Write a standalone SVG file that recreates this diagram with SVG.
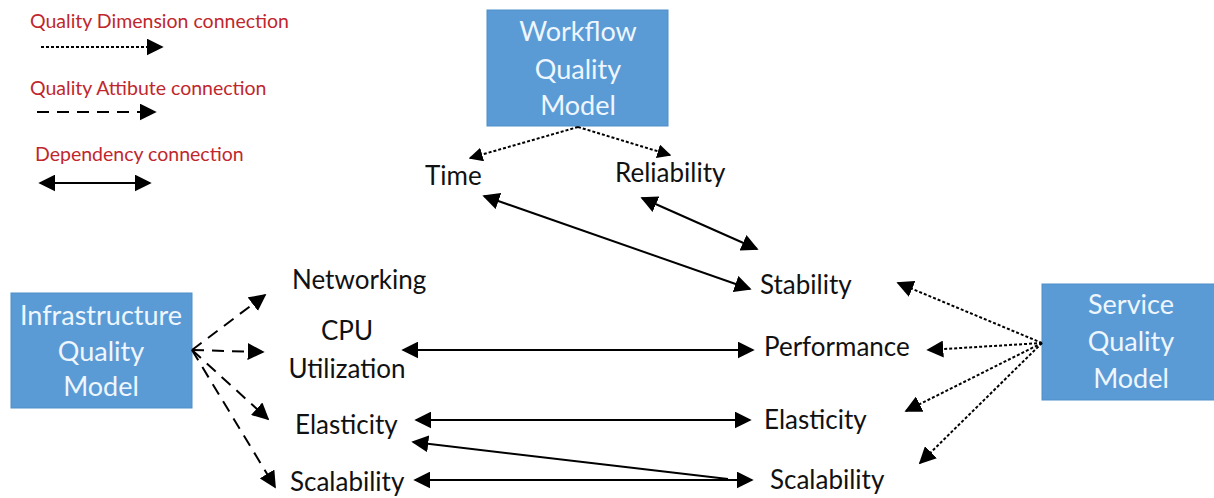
<svg xmlns="http://www.w3.org/2000/svg" width="1214" height="498" viewBox="0 0 1214 498">
<defs>
<marker id="ah" viewBox="0 0 10 10" refX="9" refY="5" markerWidth="14" markerHeight="14" markerUnits="userSpaceOnUse" orient="auto-start-reverse">
<path d="M0,0 L10,5 L0,10 z" fill="#000"/>
</marker>
<marker id="ahb" viewBox="0 0 10 10" refX="9" refY="5" markerWidth="17" markerHeight="17" markerUnits="userSpaceOnUse" orient="auto-start-reverse">
<path d="M0,0 L10,5 L0,10 z" fill="#000"/>
</marker>
</defs>
<style>
.box{fill:#5b9bd5;stroke:#4f8fc9;stroke-width:1}
.bt{font-family:Lato,"Liberation Sans",sans-serif;font-size:27px;fill:#eef6ff;text-anchor:middle}
.lb{font-family:Lato,"Liberation Sans",sans-serif;font-size:26px;fill:#111}
.lg{font-family:Lato,"Liberation Sans",sans-serif;font-size:19.5px;fill:#c0272d}
.dot{stroke:#000;stroke-width:2;stroke-dasharray:3 2;fill:none;marker-end:url(#ah)}
.dash{stroke:#000;stroke-width:2;stroke-dasharray:12 8;fill:none;marker-end:url(#ahb)}
.dep{stroke:#000;stroke-width:2;fill:none;marker-start:url(#ahb);marker-end:url(#ahb)}
.dep1{stroke:#000;stroke-width:2;fill:none;marker-start:url(#ahb)}
</style>
<rect width="1214" height="498" fill="#fff"/>

<g id="legend">
<text class="lg" x="30" y="28">Quality Dimension connection</text>
<line class="dot" x1="41" y1="47" x2="162" y2="47" style="marker-end:url(#ahb)"/>
<text class="lg" x="30" y="95">Quality Attibute connection</text>
<line class="dash" x1="37" y1="112" x2="155" y2="112"/>
<text class="lg" x="35" y="161">Dependency connection</text>
<line class="dep" x1="40" y1="183" x2="150" y2="183"/>
</g>

<g id="workflow">
<rect class="box" x="487" y="10" width="181" height="116"/>
<text class="bt" x="578" y="41">Workflow</text>
<text class="bt" x="578" y="79">Quality</text>
<text class="bt" x="578" y="115">Model</text>
</g>
<g id="infrastructure">
<rect class="box" x="11" y="293" width="181" height="115"/>
<text class="bt" x="101" y="325">Infrastructure</text>
<text class="bt" x="101" y="361">Quality</text>
<text class="bt" x="101" y="396">Model</text>
</g>
<g id="service">
<rect class="box" x="1042" y="284" width="180" height="116"/>
<text class="bt" x="1131" y="314">Service</text>
<text class="bt" x="1131" y="351">Quality</text>
<text class="bt" x="1131" y="388">Model</text>
</g>

<g id="time"><text class="lb" x="425" y="185">Time</text></g>
<g id="reliability"><text class="lb" x="615" y="182">Reliability</text></g>
<g id="networking"><text class="lb" x="292" y="289">Networking</text></g>
<g id="cpu"><text class="lb" x="347" y="340" text-anchor="middle">CPU</text><text class="lb" x="347" y="378" text-anchor="middle">Utilization</text></g>
<g id="elasticity-i"><text class="lb" x="295" y="434">Elasticity</text></g>
<g id="scalability-i"><text class="lb" x="290" y="491">Scalability</text></g>
<g id="stability"><text class="lb" x="760" y="294">Stability</text></g>
<g id="performance"><text class="lb" x="764" y="356">Performance</text></g>
<g id="elasticity-s"><text class="lb" x="764" y="429">Elasticity</text></g>
<g id="scalability-s"><text class="lb" x="770" y="489">Scalability</text></g>

<g id="connectors">
<line class="dot" x1="578" y1="127" x2="470" y2="158"/>
<line class="dot" x1="578" y1="127" x2="670" y2="155"/>
<line class="dep" x1="484" y1="196" x2="750" y2="289"/>
<line class="dep" x1="642" y1="198" x2="757" y2="249"/>
<line class="dash" x1="192" y1="350" x2="265" y2="295"/>
<line class="dash" x1="192" y1="350" x2="263" y2="352"/>
<line class="dash" x1="192" y1="350" x2="268" y2="419"/>
<line class="dash" x1="192" y1="350" x2="275" y2="487"/>
<line class="dep" x1="403" y1="350" x2="753" y2="350"/>
<line class="dep" x1="416" y1="420" x2="750" y2="420"/>
<line class="dep1" x1="413" y1="442" x2="728" y2="479"/>
<line class="dep" x1="415" y1="480" x2="752" y2="480"/>
<line class="dot" x1="1042" y1="343" x2="898" y2="283" style="marker-end:url(#ahb)"/>
<line class="dot" x1="1042" y1="343" x2="928" y2="350" style="marker-end:url(#ahb)"/>
<line class="dot" x1="1042" y1="343" x2="906" y2="411" style="marker-end:url(#ahb)"/>
<line class="dot" x1="1042" y1="343" x2="920" y2="463" style="marker-end:url(#ahb)"/>
</g>
</svg>
